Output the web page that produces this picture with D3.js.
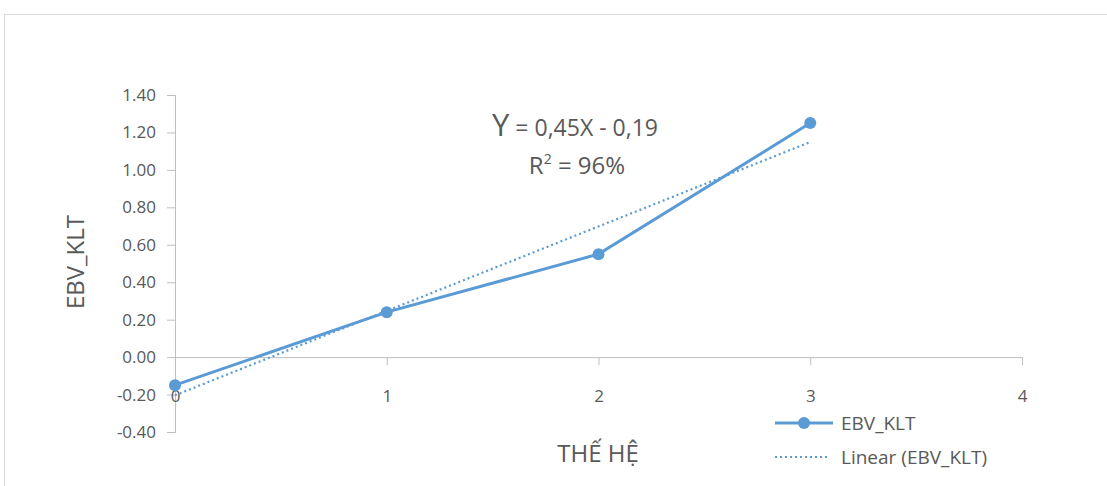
<!DOCTYPE html>
<html lang="vi">
    <head>
        <meta charset="utf-8">
        <title>EBV_KLT theo thế hệ</title>
        <script type="text/javascript" src="https://d3js.org/d3.v7.min.js"></script>
        <style>
            body { margin: 0; background: #fff; }
            text { font-family: "Open Sans", "Noto Sans", sans-serif; fill: #595959; }
        </style>
    </head>
    <body>
        <svg id="chart"></svg>
    </body>
    <script>
        // data
        let generations = [0, 1, 2, 3];
        let ebvValues = [-0.15, 0.24, 0.55, 1.25];
        let yTicks = [-0.40, -0.20, 0.00, 0.20, 0.40, 0.60, 0.80, 1.00, 1.20, 1.40];
        let xTicks = [0, 1, 2, 3, 4];
        let equationLines = ["Y = 0,45X - 0,19", "R2 = 96%"];
        let legendLabels = ["EBV_KLT", "Linear (EBV_KLT)"];

        let width = 1107, height = 486;
        let color = "#5b9bd5";

        let svg = d3.select("#chart")
                    .attr("width", width)
                    .attr("height", height);

        // outer frame
        svg.append("rect")
            .attr("x", 4.5).attr("y", 14.5)
            .attr("width", width + 10).attr("height", height)
            .attr("fill", "none")
            .attr("stroke", "#d9d9d9");

        let x = d3.scaleLinear().domain([0, 4]).range([175, 1022]);
        let y = d3.scaleLinear().domain([-0.4, 1.4]).range([432, 95]);

        // plain hyphen for negatives, like the original
        let yFmt = d => d3.format(".2f")(d).replace("\u2212", "-");

        // y axis
        let yAxis = svg.append("g")
            .attr("transform", "translate(" + x(0) + ",0)")
            .call(d3.axisLeft(y).tickValues(yTicks).tickFormat(yFmt).tickSize(8).tickPadding(11));
        yAxis.selectAll("text").style("font-size", "17px").attr("fill", "#595959");

        // x axis at y = 0
        let xAxis = svg.append("g")
            .attr("transform", "translate(0," + y(0) + ")")
            .call(d3.axisBottom(x).tickValues(xTicks).tickFormat(d3.format("d")).tickSize(8).tickPadding(25));
        xAxis.selectAll("text").style("font-size", "17px").attr("fill", "#595959");

        svg.selectAll(".domain, .tick line").attr("stroke", "#bfbfbf");

        // linear trend from least squares
        let n = generations.length;
        let mx = d3.mean(generations), my = d3.mean(ebvValues);
        let slope = d3.sum(generations, (g, i) => (g - mx) * (ebvValues[i] - my)) /
                    d3.sum(generations, g => (g - mx) * (g - mx));
        let intercept = my - slope * mx;
        let trendX = [generations[0], generations[n - 1]];

        svg.append("path")
            .datum(trendX)
            .attr("d", d3.line().x(d => x(d)).y(d => y(intercept + slope * d)))
            .attr("fill", "none")
            .attr("stroke", color)
            .attr("stroke-width", 2.2)
            .attr("stroke-dasharray", "2,3");

        // series line + markers
        let points = generations.map((g, i) => [g, ebvValues[i]]);
        svg.append("path")
            .datum(points)
            .attr("d", d3.line().x(d => x(d[0])).y(d => y(d[1])))
            .attr("fill", "none")
            .attr("stroke", color)
            .attr("stroke-width", 3);

        svg.selectAll(".pt")
            .data(points)
            .enter()
            .append("circle")
            .attr("cx", d => x(d[0]))
            .attr("cy", d => y(d[1]))
            .attr("r", 6)
            .attr("fill", color);

        // axis titles
        svg.append("text")
            .attr("transform", "translate(84,262) rotate(-90)")
            .attr("text-anchor", "middle")
            .style("font-size", "24px")
            .text("EBV_KLT");

        svg.append("text")
            .attr("x", 598).attr("y", 462)
            .attr("text-anchor", "middle")
            .style("font-size", "24px")
            .text("THẾ HỆ");

        // equation label
        let eq = svg.append("text")
            .attr("x", 575).attr("y", 136)
            .attr("text-anchor", "middle")
            .style("font-size", "23px");
        eq.append("tspan").style("font-size", "31px").text("Y");
        eq.append("tspan").text(equationLines[0].slice(1));

        let r2 = svg.append("text")
            .attr("x", 577).attr("y", 174)
            .attr("text-anchor", "middle")
            .style("font-size", "24px");
        r2.append("tspan").text("R");
        r2.append("tspan").attr("dy", -10).style("font-size", "14px").text("2");
        r2.append("tspan").attr("dy", 10).text(equationLines[1].slice(2));

        // legend
        let legend = svg.append("g").attr("transform", "translate(775,423)");
        legend.append("line")
            .attr("x1", 0).attr("x2", 58).attr("y1", 0).attr("y2", 0)
            .attr("stroke", color).attr("stroke-width", 3);
        legend.append("circle").attr("cx", 29).attr("cy", 0).attr("r", 6).attr("fill", color);
        legend.append("line")
            .attr("x1", 0).attr("x2", 55).attr("y1", 34).attr("y2", 34)
            .attr("stroke", color).attr("stroke-width", 2)
            .attr("stroke-dasharray", "2,3");
        legend.selectAll(".lbl")
            .data(legendLabels)
            .enter()
            .append("text")
            .attr("x", 66)
            .attr("y", (d, i) => i * 34 + 7)
            .style("font-size", "19px")
            .text(d => d);
    </script>
</html>
